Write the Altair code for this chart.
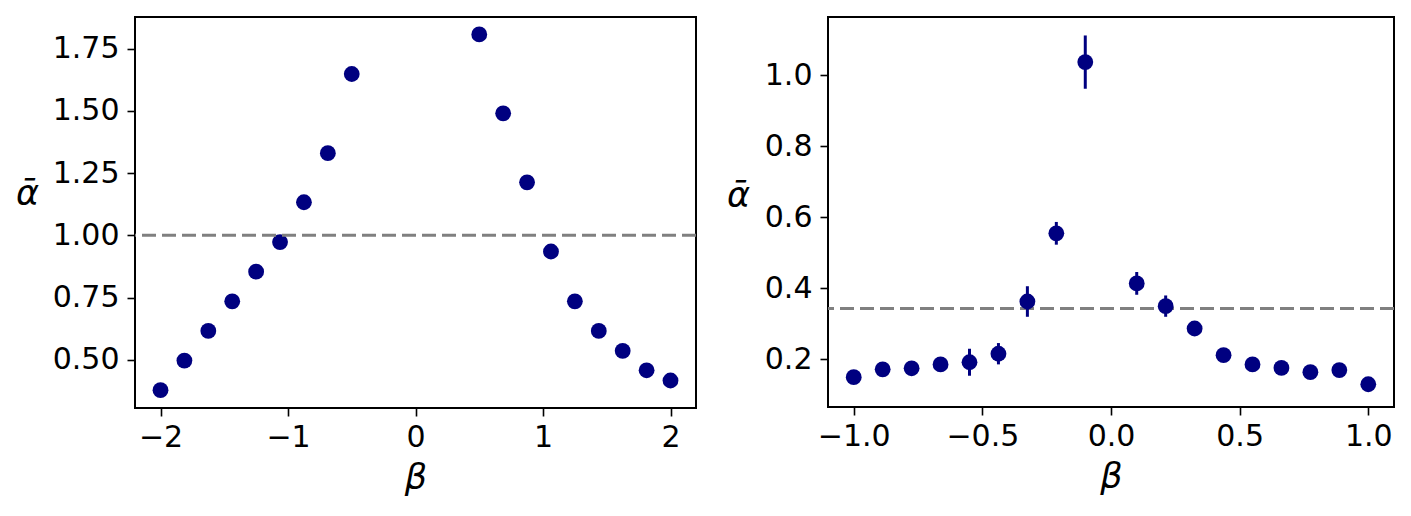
import altair as alt
import pandas as pd

# Left panel data
x_left = [-2.0, -1.8125, -1.625, -1.4375, -1.25, -1.0625, -0.875, -0.6875, -0.5,
          0.5, 0.6875, 0.875, 1.0625, 1.25, 1.4375, 1.625, 1.8125, 2.0]
y_left = [0.378, 0.497, 0.616, 0.735, 0.854, 0.973, 1.133, 1.330, 1.648,
          1.807, 1.490, 1.213, 0.935, 0.735, 0.616, 0.536, 0.458, 0.417]
ref_left = [1.0]

# Right panel data
x_right = [-1.0, -0.8875, -0.775, -0.6625, -0.55, -0.4375, -0.325, -0.2125, -0.1,
           0.1, 0.2125, 0.325, 0.4375, 0.55, 0.6625, 0.775, 0.8875, 1.0]
y_right = [0.150, 0.172, 0.175, 0.186, 0.192, 0.216, 0.363, 0.555, 1.037,
           0.414, 0.350, 0.287, 0.212, 0.186, 0.176, 0.164, 0.170, 0.130]
err_right = [0.008, 0.010, 0.008, 0.010, 0.038, 0.030, 0.043, 0.032, 0.075,
             0.032, 0.030, 0.012, 0.010, 0.008, 0.008, 0.008, 0.008, 0.008]
ref_right = [0.343]

x_ticks_left = [-2, -1, 0, 1, 2]
y_ticks_left = [0.5, 0.75, 1.0, 1.25, 1.5, 1.75]
x_ticks_right = [-1.0, -0.5, 0.0, 0.5, 1.0]
y_ticks_right = [0.2, 0.4, 0.6, 0.8, 1.0]

NAVY = "#000080"
GRAY = "#808080"

df_l = pd.DataFrame({"b": x_left, "a": y_left})
df_r = pd.DataFrame({"b": x_right, "a": y_right, "lo": [v - e for v, e in zip(y_right, err_right)],
                     "hi": [v + e for v, e in zip(y_right, err_right)]})


def xaxis(vals, fmt):
    return alt.Axis(values=vals, format=fmt, title="β", titleFontStyle="italic",
                    titleFontSize=35, titleFontWeight="normal", titlePadding=8,
                    labelPadding=6)


def yaxis(vals, fmt, tx, ty):
    return alt.Axis(values=vals, format=fmt, title="ᾱ", titleFontStyle="italic",
                    titleFontSize=35, titleFontWeight="normal", titleAngle=0,
                    titleX=tx, titleY=ty, titleAlign="center", titleBaseline="middle",
                    labelPadding=8)


xl = alt.X("b:Q", scale=alt.Scale(domain=[-2.2, 2.2], nice=False, zero=False),
           axis=xaxis(x_ticks_left, "d"))
yl = alt.Y("a:Q", scale=alt.Scale(domain=[0.3065, 1.877], nice=False, zero=False),
           axis=yaxis(y_ticks_left, ".2f", -108, 176))

left_ref = alt.Chart(pd.DataFrame({"a": ref_left})).mark_rule(
    color=GRAY, strokeWidth=3, strokeDash=[14, 6]).encode(y=alt.Y("a:Q"))
left_pts = alt.Chart(df_l).mark_circle(color=NAVY, size=250, opacity=1).encode(x=xl, y=yl)
left = alt.layer(left_pts, left_ref).properties(width=561, height=391)

xr = alt.X("b:Q", scale=alt.Scale(domain=[-1.1, 1.1], nice=False, zero=False),
           axis=xaxis(x_ticks_right, ".1f"))
yr = alt.Y("a:Q", scale=alt.Scale(domain=[0.066, 1.164], nice=False, zero=False),
           axis=yaxis(y_ticks_right, ".1f", -90, 178))

right_ref = alt.Chart(pd.DataFrame({"a": ref_right})).mark_rule(
    color=GRAY, strokeWidth=3, strokeDash=[14, 6]).encode(y=alt.Y("a:Q"))
right_err = alt.Chart(df_r).mark_rule(color=NAVY, strokeWidth=3).encode(
    x=xr, y=alt.Y("lo:Q"), y2="hi:Q")
right_pts = alt.Chart(df_r).mark_circle(color=NAVY, size=250, opacity=1).encode(x=xr, y=yr)
right = alt.layer(right_ref, right_err, right_pts).properties(width=566, height=390)

chart = alt.hconcat(left, right, spacing=26).resolve_scale(x="independent", y="independent").properties(
    padding={"top": 8, "left": 6, "right": 5, "bottom": 5}
).configure(font="DejaVu Sans").configure_view(
    stroke="black", strokeWidth=2
).configure_axis(
    grid=False, domain=False, ticks=True, tickColor="black", tickSize=8, tickWidth=1.6,
    labelFont="DejaVu Sans", labelFontSize=30, labelColor="black",
    titleFont="DejaVu Sans", titleColor="black"
)

chart.save("out.html", embed_options={"renderer": "svg", "actions": False})
